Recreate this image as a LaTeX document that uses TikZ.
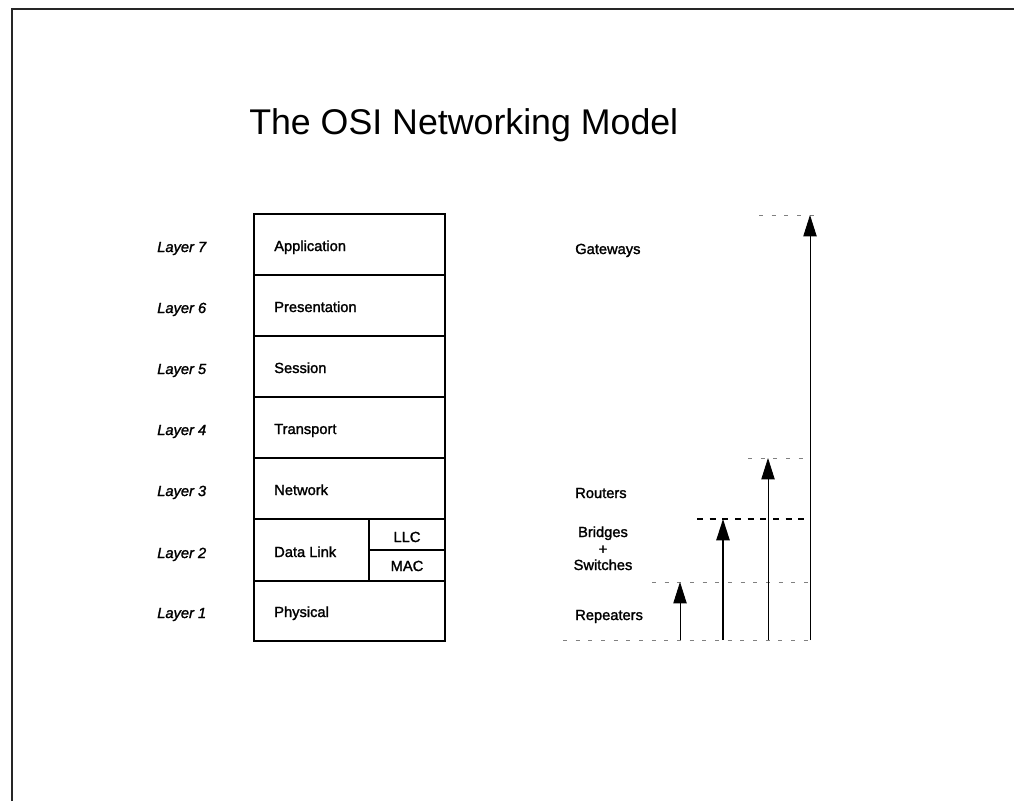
\documentclass[tikz,border=0pt]{standalone}
\usepackage{fontspec}
\setmainfont{Liberation Sans}
\newfontfamily\heavyfont{Liberation Sans}[FakeBold=1.6]
\usetikzlibrary{arrows.meta}
\begin{document}
\begin{tikzpicture}[x=0.75pt,y=-0.75pt,
  lbl/.style={inner sep=0pt,anchor=base west,font=\heavyfont\fontsize{11}{12.4}\selectfont},
  lyr/.style={lbl,font=\heavyfont\fontsize{11}{12.4}\selectfont\itshape},
  ctr/.style={lbl,anchor=base},
  boxline/.style={line width=1.2pt},
  guide/.style={gray,line width=0.6pt,dash pattern=on 3pt off 6.5pt},
  guidebold/.style={black,line width=0.9pt,dash pattern=on 4.5pt off 5pt},
  up/.style={line width=0.6pt,-{Triangle[length=16pt,width=10pt]}},
  upbold/.style={line width=1.1pt,-{Triangle[length=16pt,width=10pt]}}
]
\useasboundingbox (0,0) rectangle (1014,801);
% frame
\draw[line width=1.5pt,black!85] (12,801) -- (12,9) -- (1014,9);

% title
\node[inner sep=0pt,anchor=base west,font=\fontsize{26.8}{30}\selectfont] (title) at (249,134) {The OSI Networking Model};

% stack of layers
\draw[boxline] (254,214) rectangle (445,641);
\foreach \y in {275,336,397,458,519,581} \draw[boxline] (254,\y) -- (445,\y);
\draw[boxline] (369,519) -- (369,581);
\draw[boxline] (369,550) -- (445,550);

% layer names
\node[lbl] (app)  at (274,251) {Application};
\node[lbl] (pres) at (274,312) {Presentation};
\node[lbl] (sess) at (274,373) {Session};
\node[lbl] (trans) at (274,434) {Transport};
\node[lbl] (net)  at (274,495) {Network};
\node[lbl] (dl)   at (274,557) {Data Link};
\node[ctr] (llc)  at (407,542) {LLC};
\node[ctr] (mac)  at (407,571) {MAC};
\node[lbl] (phys) at (274,617) {Physical};

% layer numbers
\node[lyr] (l7) at (157,252) {Layer 7};
\node[lyr] (l6) at (157,313) {Layer 6};
\node[lyr] (l5) at (157,374) {Layer 5};
\node[lyr] (l4) at (157,435) {Layer 4};
\node[lyr] (l3) at (157,496) {Layer 3};
\node[lyr] (l2) at (157,558) {Layer 2};
\node[lyr] (l1) at (157,618) {Layer 1};

% device labels
\node[lbl] (gw)  at (575,254) {Gateways};
\node[lbl] (rtr) at (575,498) {Routers};
\node[ctr] (brg) at (603,537) {Bridges};
\node[ctr] (plus) at (603,554) {+};
\node[ctr] (sw)  at (603,570) {Switches};
\node[lbl] (rep) at (575,620) {Repeaters};

% guide coordinates
\coordinate (b0) at (563,640);  \coordinate (b1) at (812,640);
\coordinate (r0) at (652,582);  \coordinate (r1) at (813,582);
\coordinate (s0) at (697,519);  \coordinate (s1) at (807,519);
\coordinate (t0) at (748,458);  \coordinate (t1) at (805,458);
\coordinate (g0) at (759,215);  \coordinate (g1) at (817,215);

\draw[guide] (b0) -- (b1);
\draw[guide] (r0) -- (r1);
\draw[guidebold] (s0) -- (s1);
\draw[guide] (t0) -- (t1);
\draw[guide] (g0) -- (g1);

% arrows
\coordinate (ra) at (680,640); \coordinate (rb) at (680,582);
\coordinate (sa) at (723,640); \coordinate (sb) at (723,519);
\coordinate (ta) at (768,640); \coordinate (tb) at (768,458);
\coordinate (ga) at (810,640); \coordinate (gb) at (810,215);
\draw[up] (ra) -- (rb);
\draw[upbold] (sa) -- (sb);
\draw[up] (ta) -- (tb);
\draw[up] (ga) -- (gb);
\end{tikzpicture}
\end{document}
